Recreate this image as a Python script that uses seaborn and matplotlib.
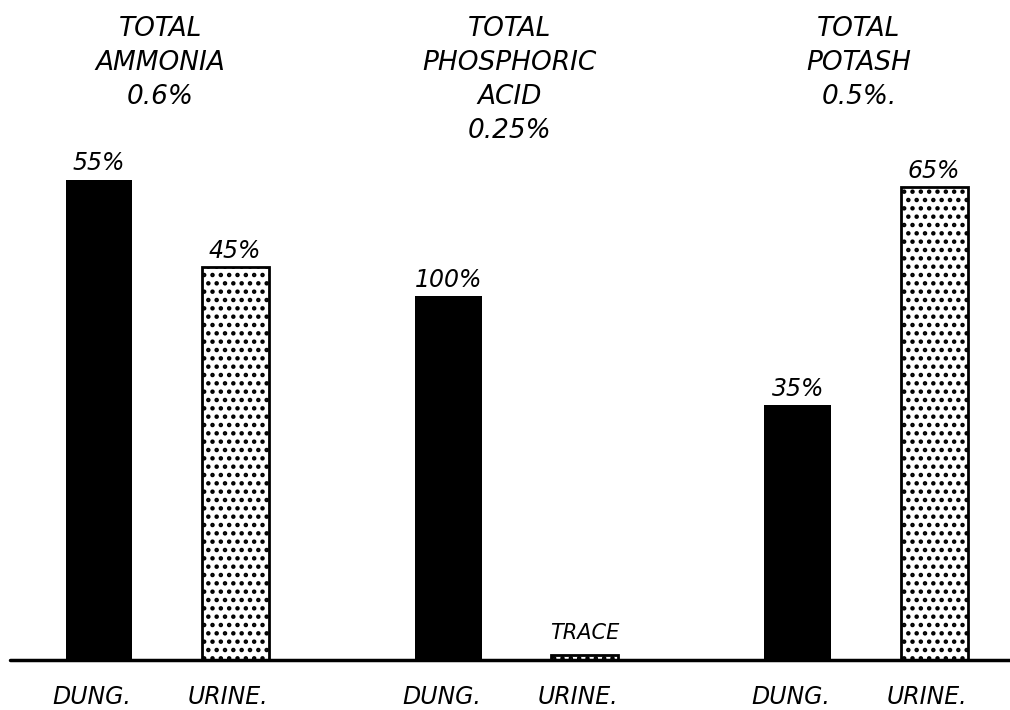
import matplotlib
matplotlib.use("Agg")
import matplotlib.pyplot as plt
import pandas as pd
import seaborn as sns

# Data
nutrients = ["TOTAL\nAMMONIA\n0.6%", "TOTAL\nPHOSPHORIC\nACID\n0.25%", "TOTAL\nPOTASH\n0.5%."]
totals = [0.6, 0.25, 0.5]          # % of nutrient in the manure
dung_share = [55, 100, 35]         # share of the total found in dung
urine_share = [45, 1.5, 65]        # share found in urine (phosphoric acid: trace)
dung_labels = ["55%", "100%", "35%"]
urine_labels = ["45%", "TRACE", "65%"]
sources = ["DUNG.", "URINE."]

# Bar heights are the absolute amounts (total x share)
rows = []
for name, tot, d, u in zip(nutrients, totals, dung_share, urine_share):
    rows.append({"nutrient": name, "source": "DUNG.", "amount": tot * d / 100})
    rows.append({"nutrient": name, "source": "URINE.", "amount": tot * u / 100})
df = pd.DataFrame(rows)

sns.set_style("white")
plt.rcParams["font.family"] = ["DejaVu Sans"]
plt.rcParams["text.color"] = "black"
plt.rcParams["hatch.linewidth"] = 2.0
plt.rcParams["hatch.color"] = "black"

fig = plt.figure(figsize=(10.1, 7.1), dpi=100)
ax = fig.add_axes([0, 0, 1, 1])

sns.barplot(data=df, x="nutrient", y="amount", hue="source", order=nutrients,
            hue_order=sources, palette=["black", "white"], width=0.78, gap=0.51,
            dodge=True, legend=False, ax=ax, edgecolor="black", linewidth=0)

# stippled urine bars
for bar in ax.containers[1]:
    bar.set_facecolor("white")
    bar.set_edgecolor("black")
    bar.set_linewidth(2)
    bar.set_hatch("..")

ax.set_xlim(-0.478, 2.412)
ax.set_ylim(-0.0343, 0.4533)
ax.axis("off")

# baseline
ax.axhline(0, xmin=0.01, xmax=1, color="black", lw=2.5, zorder=5)

# value labels above bars and source labels below
for cont, labels, src in zip(ax.containers, [dung_labels, urine_labels], sources):
    for bar, lab in zip(cont, labels):
        cx = bar.get_x() + bar.get_width() / 2
        h = bar.get_height()
        if lab == "TRACE":
            ax.annotate(lab, (cx, h), xytext=(0, 8), textcoords="offset points",
                        ha="center", va="bottom", fontsize=15, fontstyle="italic",
                        color="black")
        else:
            ax.annotate(lab, (cx, h), xytext=(0, 3), textcoords="offset points",
                        ha="center", va="bottom", fontsize=17, fontstyle="italic",
                        color="black")
        ax.text(cx - 0.02, -0.0254, src, ha="center", va="center",
                fontsize=17, fontstyle="italic", color="black")

# group titles
for i, name in enumerate(nutrients):
    ax.text(i - 0.02, 0.4423, name, ha="center", va="top", fontsize=19,
            fontstyle="italic", linespacing=1.4, color="black")

fig.savefig("out.png", dpi=100, facecolor="white")
